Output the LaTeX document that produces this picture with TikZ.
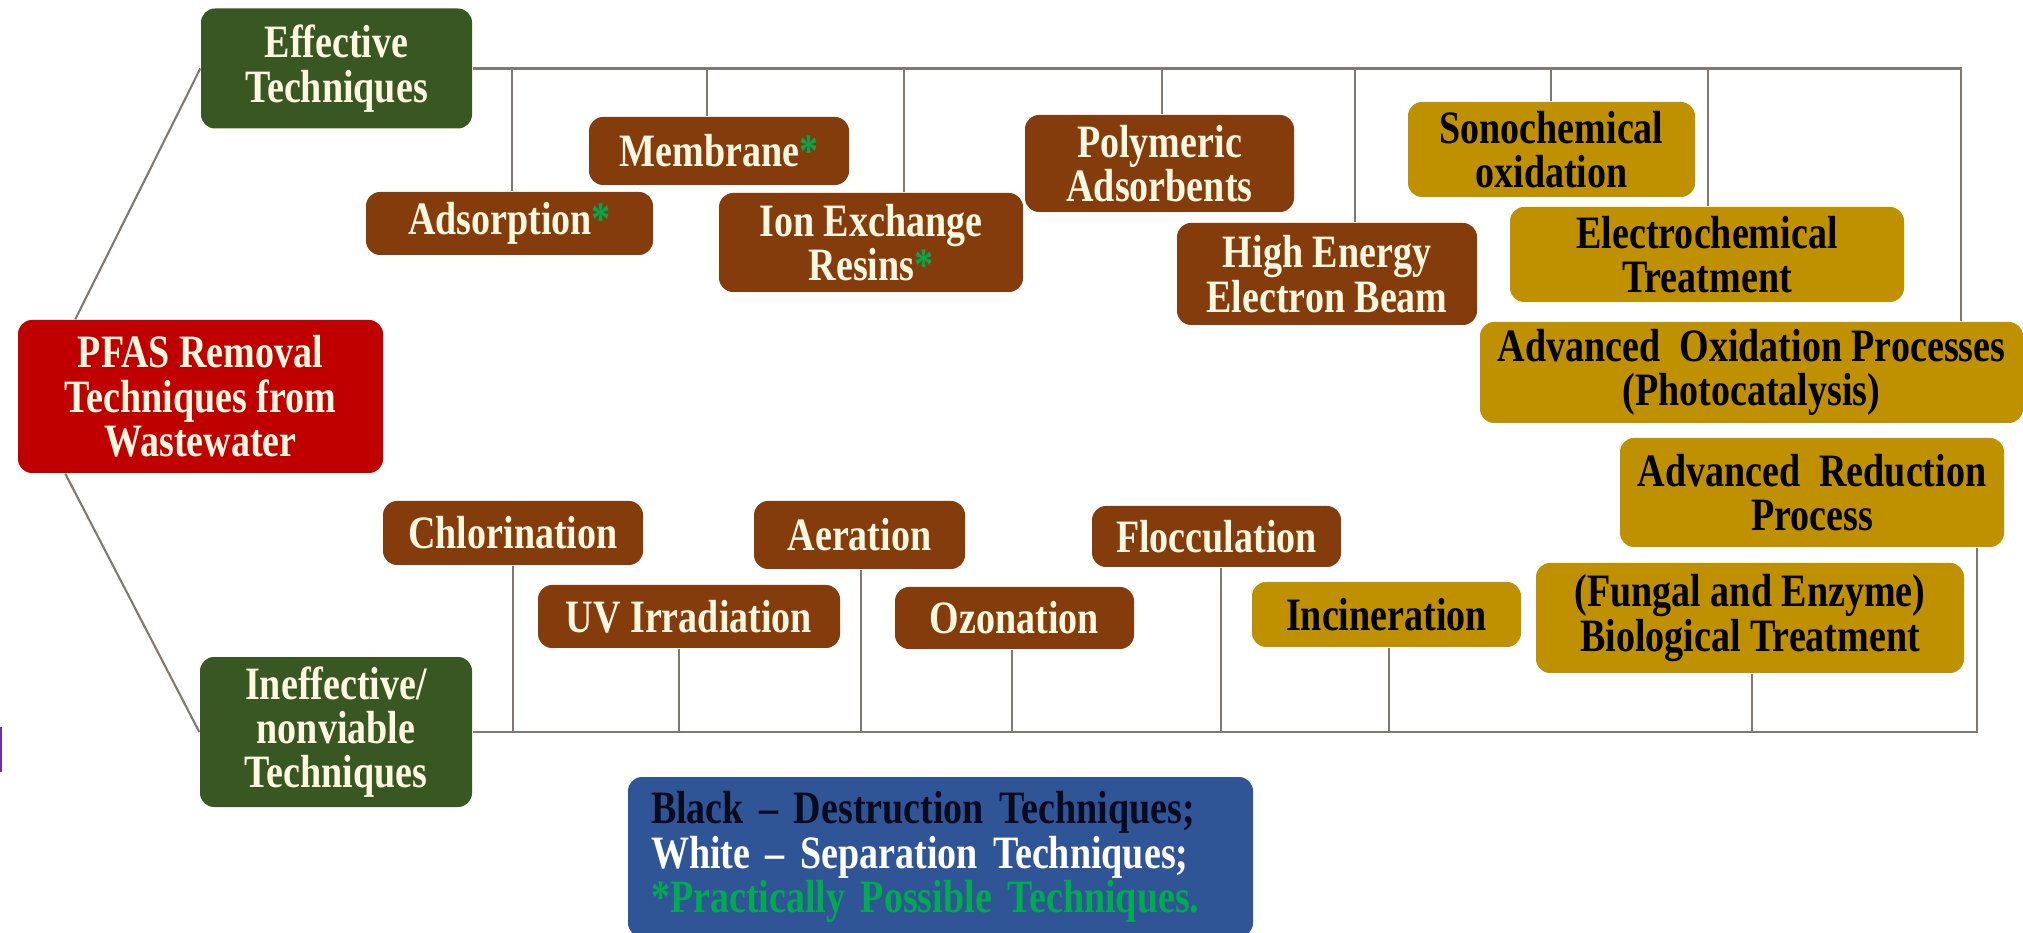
\documentclass[tikz,border=0pt]{standalone}
\usepackage{fontspec}
\setmainfont{Liberation Serif}[FakeStretch=0.82]
\usepackage{xcolor}

\definecolor{effgreen}{RGB}{56,87,35}
\definecolor{pfasred}{RGB}{192,0,0}
\definecolor{sepbrown}{RGB}{132,60,12}
\definecolor{desgold}{RGB}{191,144,0}
\definecolor{keyblue}{RGB}{47,85,151}
\definecolor{cream}{RGB}{255,248,225}
\definecolor{stargreen}{RGB}{0,170,80}
\definecolor{linkgray}{RGB}{128,120,115}
\definecolor{edgepurple}{RGB}{112,48,160}

\newcommand{\pstar}{{\color{stargreen}*}}

\begin{document}
\begin{tikzpicture}[
    box/.style={rounded corners=0.14cm, inner sep=0pt, align=center,
      font={\fontsize{13.2}{12.6}\selectfont\bfseries}},
    catbox/.style={box, fill=effgreen, text=cream},
    rootbox/.style={box, fill=pfasred, text=cream},
    sepbox/.style={box, fill=sepbrown, text=cream},
    desbox/.style={box, fill=desgold, text=black},
    link/.style={draw=linkgray, line width=0.6pt}
  ]
    \useasboundingbox (0,0) rectangle (20.23,-9.33);

    % Root and the two branches
    \node[rootbox, minimum width=3.65cm, minimum height=1.53cm] (pfas) at (2.005,-3.965)
      {PFAS Removal\\Techniques from\\Wastewater};
    \node[catbox, minimum width=2.71cm, minimum height=1.20cm] (eff) at (3.365,-0.685)
      {Effective\\Techniques};
    \node[catbox, minimum width=2.72cm, minimum height=1.50cm] (ineff) at (3.36,-7.32)
      {Ineffective/\\nonviable\\Techniques};

    % Effective techniques
    \node[sepbox, minimum width=2.87cm, minimum height=0.63cm] (ads) at (5.095,-2.235) {Adsorption\pstar};
    \node[sepbox, minimum width=2.60cm, minimum height=0.68cm] (mem) at (7.19,-1.51) {Membrane\pstar};
    \node[sepbox, minimum width=3.04cm, minimum height=0.99cm] (ion) at (8.71,-2.425) {Ion Exchange\\Resins\pstar};
    \node[sepbox, minimum width=2.69cm, minimum height=0.97cm] (poly) at (11.595,-1.635) {Polymeric\\Adsorbents};
    \node[sepbox, minimum width=3.00cm, minimum height=1.02cm] (high) at (13.27,-2.74) {High Energy\\Electron Beam};
    \node[desbox, minimum width=2.87cm, minimum height=0.95cm] (sono) at (15.515,-1.495) {Sonochemical\\oxidation};
    \node[desbox, minimum width=3.94cm, minimum height=0.95cm] (electro) at (17.07,-2.545) {Electrochemical\\Treatment};
    \node[desbox, minimum width=5.43cm, minimum height=1.01cm] (aop) at (17.515,-3.725)
      {Advanced~ Oxidation Processes\\(Photocatalysis)};

    % Ineffective / nonviable techniques
    \node[desbox, minimum width=3.84cm, minimum height=1.09cm] (arp) at (18.12,-4.925) {Advanced~ Reduction\\Process};
    \node[desbox, minimum width=4.28cm, minimum height=1.10cm] (fungal) at (17.50,-6.18)
      {(Fungal and Enzyme)\\Biological Treatment};
    \node[desbox, minimum width=2.69cm, minimum height=0.65cm] (incin) at (13.865,-6.145) {Incineration};
    \node[sepbox, minimum width=2.49cm, minimum height=0.61cm] (flocc) at (12.165,-5.365) {Flocculation};
    \node[sepbox, minimum width=2.39cm, minimum height=0.62cm] (ozon) at (10.145,-6.18) {Ozonation};
    \node[sepbox, minimum width=2.11cm, minimum height=0.68cm] (aer) at (8.595,-5.35) {Aeration};
    \node[sepbox, minimum width=3.02cm, minimum height=0.63cm] (uv) at (6.89,-6.165) {UV Irradiation};
    \node[sepbox, minimum width=2.60cm, minimum height=0.64cm] (chlor) at (5.13,-5.33) {Chlorination};

    % Key
    \node[box, fill=keyblue, align=left, text width=5.79cm, inner xsep=0.23cm,
      minimum height=1.60cm] (key) at (9.405,-8.57)
      {{\color[RGB]{10,10,30}Black -- Destruction Techniques;}\\
       {\color{white}White -- Separation Techniques;}\\
       {\color{stargreen}*Practically Possible Techniques.}};

    % Branch lines
    \draw[link] ([xshift=0.58cm]pfas.north west) -- (eff.west);
    \draw[link] ([xshift=0.48cm]pfas.south west) -- (ineff.west);

    % Top bus
    \coordinate (topR) at (eff.east -| 19.61,0);
    \draw[link] (eff.east) -- (topR) -- (topR |- aop.north);
    \foreach \n/\x in {ads/5.12, mem/7.07, ion/9.04, poly/11.62, high/13.55, sono/15.51, electro/17.08}
      \draw[link] (\x,0 |- eff.east) -- (\x,0 |- \n.north);

    % Bottom bus
    \coordinate (botR) at (ineff.east -| 19.77,0);
    \draw[link] (ineff.east) -- (botR) -- (botR |- arp.south);
    \foreach \n/\x in {chlor/5.13, uv/6.79, aer/8.61, ozon/10.12, flocc/12.21, incin/13.89, fungal/17.52}
      \draw[link] (\n.south -| \x,0) -- (\x,0 |- ineff.east);

    % stray mark at the left edge
    \draw[edgepurple, line width=0.8pt] (0.01,-7.27) -- (0.01,-7.72);
\end{tikzpicture}
\end{document}
